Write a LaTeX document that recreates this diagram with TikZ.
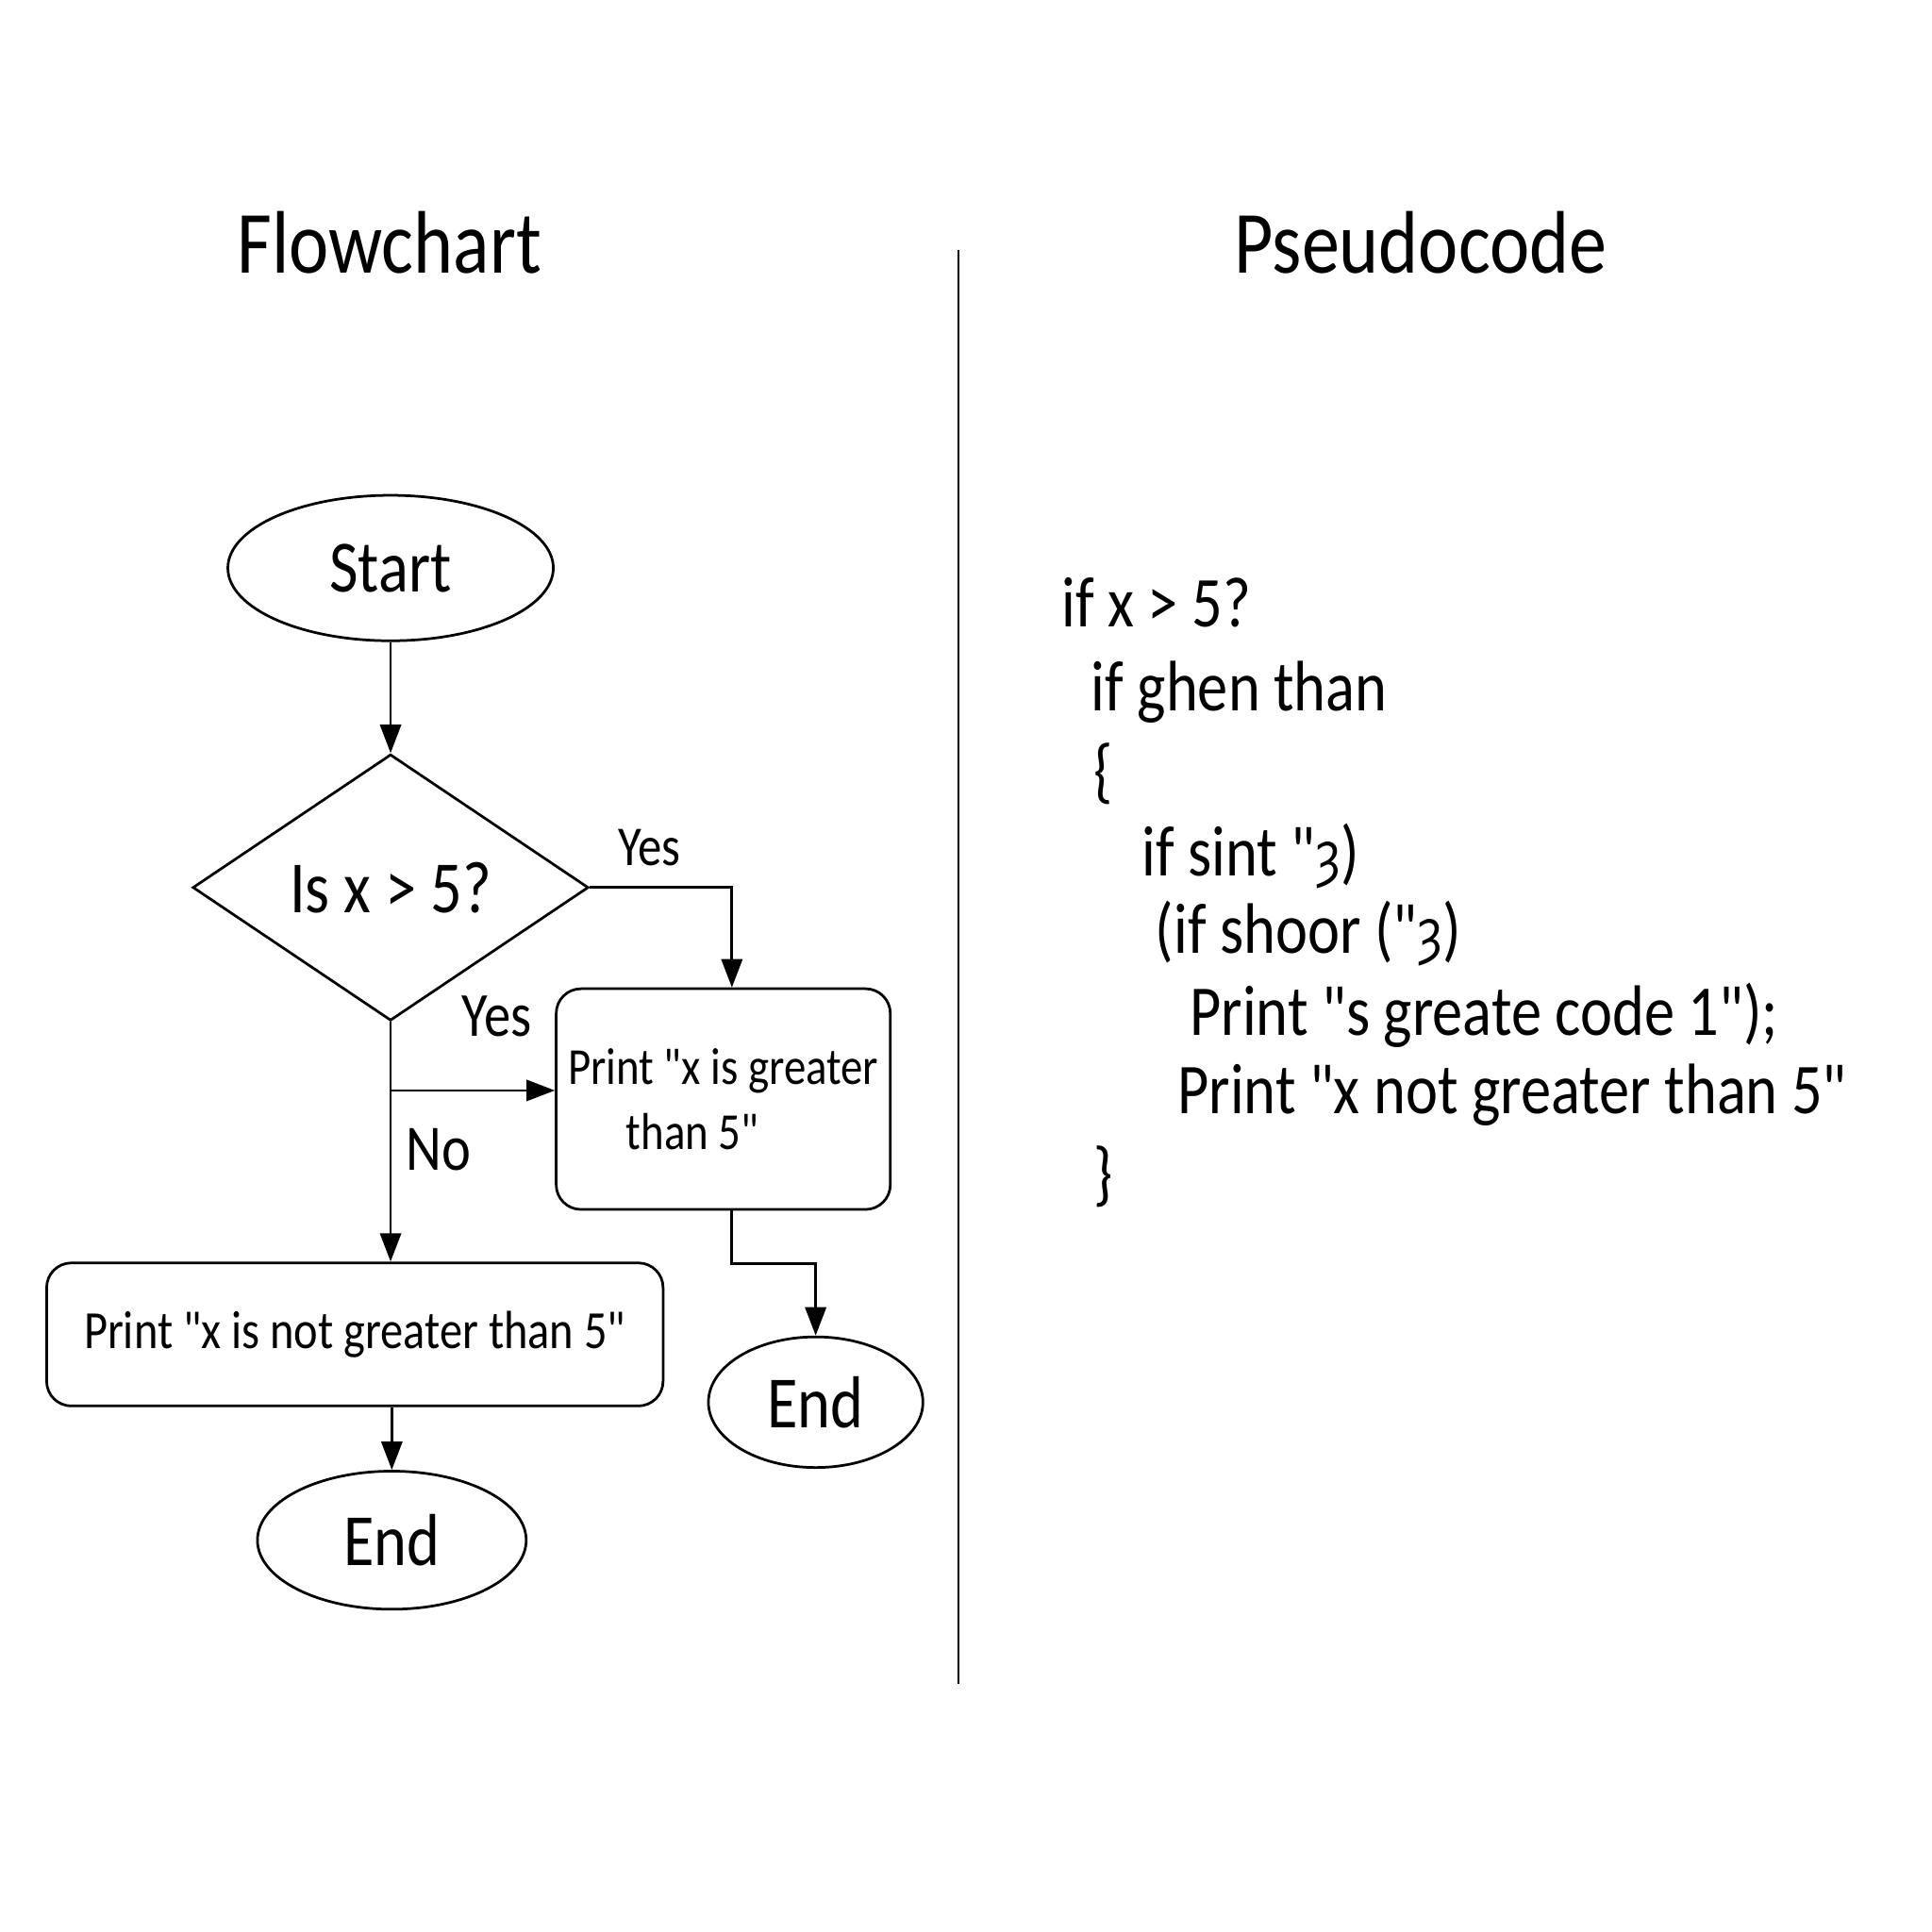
\documentclass[tikz,border=0pt]{standalone}
\usepackage{fontspec}
\setmainfont[FakeStretch=0.85,Ligatures=TeXOff]{Carlito}
\newfontfamily\ipafont[FakeStretch=0.8,Scale=0.85]{DejaVu Sans}
\usetikzlibrary{shapes.geometric,arrows.meta,positioning}
\newcommand{\fsize}[2]{\fontsize{#1}{#2}\selectfont}

\begin{document}
\begin{tikzpicture}[x=0.01cm,y=-0.01cm,
	every node/.style={inner sep=0pt},
	terminal/.style={draw,ellipse,line width=0.6pt,font=\fsize{17}{20}},
	decision/.style={draw,diamond,aspect=1.5,line width=0.6pt,minimum width=3.21cm,minimum height=2.16cm,font=\fsize{17}{20}},
	process/.style={draw,rounded corners=0.2cm,line width=0.6pt,align=center},
	arr/.style={line width=0.6pt,-{Triangle[length=0.23cm,width=0.17cm]}},
	code/.style={anchor=base west,font=\fsize{16.5}{20}}]

	\useasboundingbox[fill=white] (0,0) rectangle (1568,1568);

	% headings and divider
	\node[font=\fsize{20.5}{24}] (flowtitle) at (316,197) {Flowchart};
	\node[font=\fsize{20.5}{24}] (pseudotitle) at (1153,197) {Pseudocode};
	\draw[line width=0.5pt] (778,203) -- (778,1367);

	% flowchart
	\node[terminal,minimum width=2.64cm,minimum height=1.18cm] (start) at (317,461) {Start};
	\node[decision,below=0.9cm of start] (dec) {Is x > 5?};
	\node[process,minimum width=2.71cm,minimum height=1.79cm,font=\fsize{12}{15}] (yesbox) at (587,892) {
		Print "x is greater\\
		\hspace*{-0.5cm}than 5"
	};
	\node[process,minimum width=5cm,minimum height=1.16cm,font=\fsize{12.4}{15}] (nobox) at (288,1083) {Print "x is not greater than 5"};
	\node[terminal,minimum width=2.18cm,minimum height=1.12cm] (endA) at (318,1250) {End};
	\node[terminal,minimum width=1.74cm,minimum height=1.06cm] (endB) at (662,1138) {End};

	\node[font=\fsize{13}{16}] (yesA) at (527,688) {Yes};
	\node[font=\fsize{14.5}{17}] (yesB) at (403,825) {Yes};
	\node[font=\fsize{15}{18}] (noL) at (356,933) {No};

	\coordinate (yesin) at ([yshift=0.07cm]yesbox.west);
	\coordinate (yestop) at ([xshift=0.07cm]yesbox.north);
	\coordinate (yesout) at ([xshift=0.07cm]yesbox.south);

	\draw[arr] (start) -- (dec.north);
	\draw[arr] (dec.east) -| (yestop);
	\draw[arr] (dec.south) -- (dec.south |- nobox.north);
	\draw[arr] (dec.south |- yesin) -- (yesin);
	\draw[arr] (nobox.south -| endA) -- (endA.north);
	\draw[arr] (yesout) -- ++(0,43) -| (endB.north);

	% pseudocode
	\node[code] (c1) at (861,509) {if x > 5?};
	\node[code] (c2) at (885,577) {if ghen than};
	\node[code] (c3) at (887,645) {\{};
	\node[code] (c4) at (926,711) {if sint "{\ipafont ȝ})};
	\node[code] (c5) at (937,774) {(if shoor ("{\ipafont ȝ})};
	\node[code] (c6) at (965,840) {Print "s greate code 1");};
	\node[code] (c7) at (955,904) {Print "x not greater than 5"};
	\node[code] (c8) at (887,972) {\}};

\end{tikzpicture}
\end{document}
